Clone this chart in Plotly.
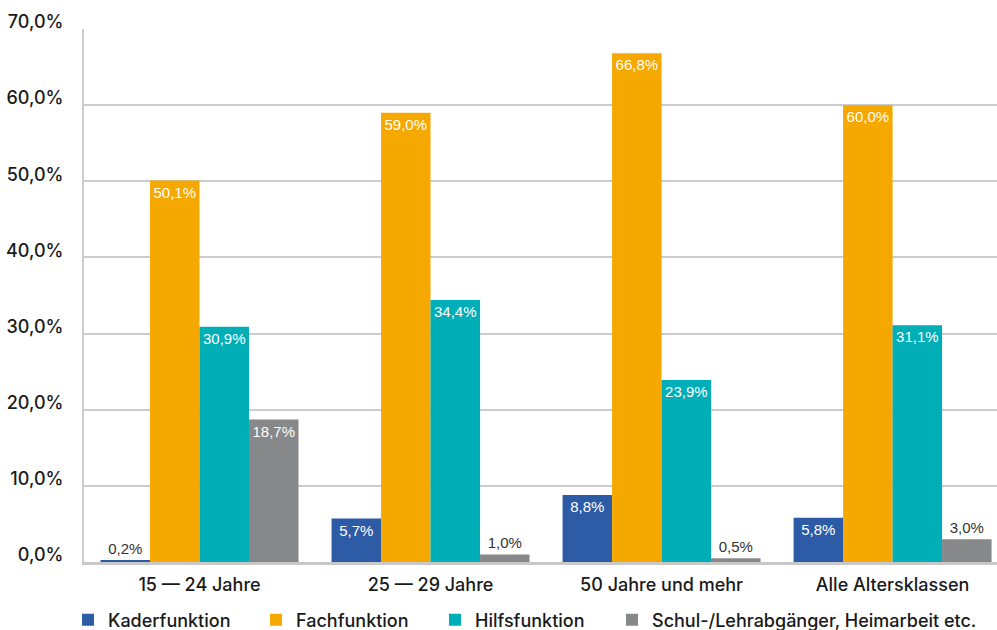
import plotly.graph_objects as go

categories = ["15 — 24 Jahre", "25 — 29 Jahre", "50 Jahre und mehr", "Alle Altersklassen"]
series_names = ["Kaderfunktion", "Fachfunktion", "Hilfsfunktion", "Schul-/Lehrabgänger, Heimarbeit etc."]
kader = [0.2, 5.7, 8.8, 5.8]
fach = [50.1, 59.0, 66.8, 60.0]
hilfs = [30.9, 34.4, 23.9, 31.1]
schul = [18.7, 1.0, 0.5, 3.0]
tick_values = [0, 10, 20, 30, 40, 50, 60, 70]
tick_labels = [f"{v:.1f}%".replace(".", ",") for v in tick_values]

colors = ["#2E5BA6", "#F5A800", "#00AEB8", "#878889"]
legend_ids = ["legend", "legend2", "legend3", "legend4"]
# legend symbol centres in pixels (layout)
legend_px = [90, 278, 457, 634]

FONT = "Liberation Sans, Arial, sans-serif"
LFONT = "Inter, Liberation Sans, Arial, sans-serif"
L, R, T, B = 84, 0, 29, 68
W, H = 997, 630
pw = W - L - R
ph = H - T - B

fig = go.Figure()
for name, vals, col, lid in zip(series_names, [kader, fach, hilfs, schul], colors, legend_ids):
    pos = ["inside" if v >= 5 else "outside" for v in vals]
    fig.add_trace(go.Bar(
        name=name, x=categories, y=vals, marker=dict(color=col, line=dict(width=0)),
        texttemplate="%{y:.1f}%", textposition=pos, insidetextanchor="end",
        textfont=dict(family=FONT, size=15, color="white"),
        insidetextfont=dict(family=FONT, size=15, color="white"),
        outsidetextfont=dict(family=FONT, size=15, color="#333333"),
        cliponaxis=False, textangle=0, constraintext="none",
        legend=lid,
    ))

legend_common = dict(orientation="h", yanchor="middle", xanchor="left", yref="container",
                     font=dict(family=LFONT, size=18, color="#1a1a1a", weight=500),
                     bgcolor="rgba(0,0,0,0)", borderwidth=0)
legends = {}
for lid, cx in zip(legend_ids, legend_px):
    legends[lid] = dict(legend_common, x=(cx - 22 - L) / pw, y=(H - 620) / H)

fig.update_layout(
    width=W, height=H,
    margin=dict(l=L, r=R, t=T, b=B, autoexpand=False),
    paper_bgcolor="white", plot_bgcolor="white",
    separators=",.",
    barmode="group", bargap=0.143, bargroupgap=0,
    font=dict(family=FONT, size=18, color="#1a1a1a"),
    xaxis=dict(range=[-0.5, 3.452], showgrid=False, showline=True, linecolor="#c8c8c8",
               linewidth=3, ticks="", ticklabelstandoff=4, automargin=False,
               tickfont=dict(family=LFONT, size=18, color="#1a1a1a", weight=500), zeroline=False),
    yaxis=dict(range=[0, 70], tickmode="array", tickvals=tick_values, ticktext=tick_labels,
               showgrid=True, gridcolor="#cccccc", gridwidth=2, showline=True, linecolor="#cccccc",
               linewidth=2, ticks="", ticklabelstandoff=15, ticklabelshift=-7, zeroline=False,
               automargin=False,
               tickfont=dict(family=LFONT, size=18, color="#1a1a1a", weight=500)),
    showlegend=True,
    **legends,
)

fig.write_html("out.html")
